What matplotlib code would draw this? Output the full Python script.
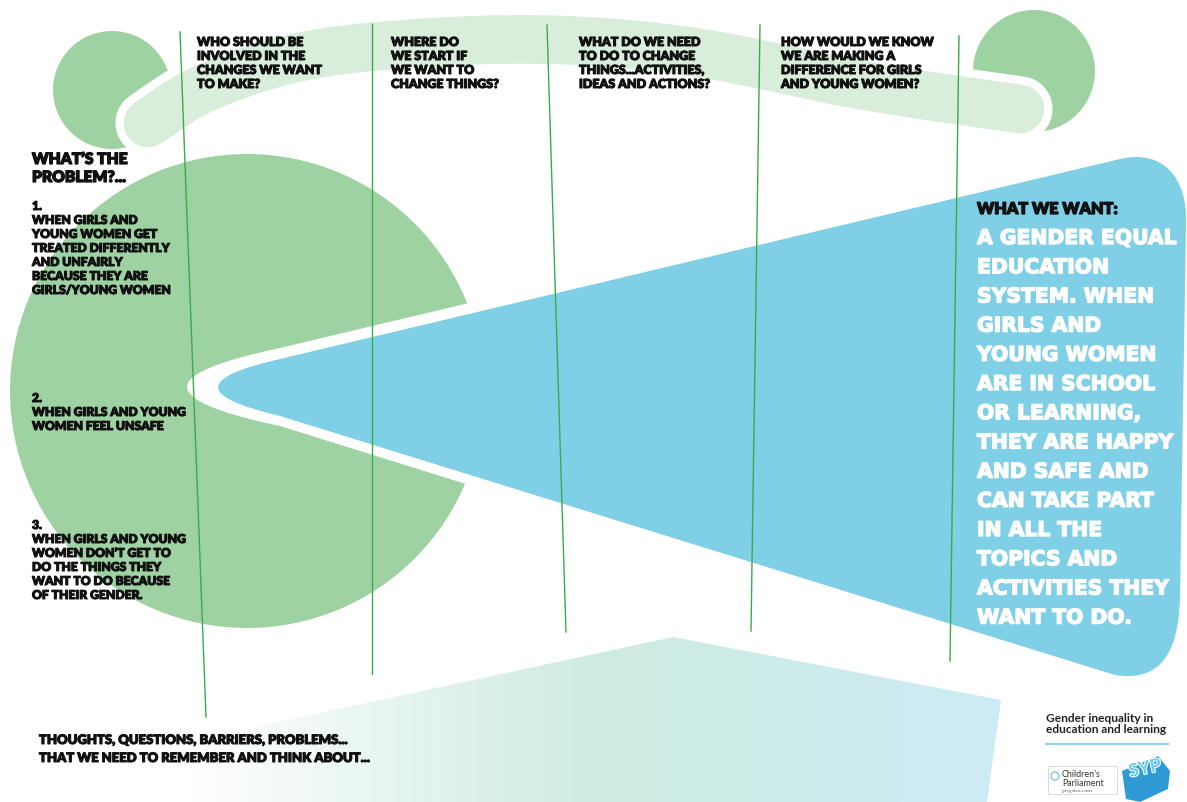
import os
import numpy as np
import matplotlib.pyplot as plt
import matplotlib.patheffects as pe
from matplotlib import font_manager
from matplotlib.font_manager import FontProperties
from matplotlib.path import Path
from matplotlib.patches import PathPatch, Circle, Polygon, Rectangle

# ---- poster text ----
column_headers = [
    ["WHO SHOULD BE", "INVOLVED IN THE", "CHANGES WE WANT", "TO MAKE?"],
    ["WHERE DO", "WE START IF", "WE WANT TO", "CHANGE THINGS?"],
    ["WHAT DO WE NEED", "TO DO TO CHANGE", "THINGS...ACTIVITIES,", "IDEAS AND ACTIONS?"],
    ["HOW WOULD WE KNOW", "WE ARE MAKING A", "DIFFERENCE FOR GIRLS", "AND YOUNG WOMEN?"],
]
problem_title = ["WHAT\u2019S THE", "PROBLEM?..."]
problem_items = [
    ["WHEN GIRLS AND", "YOUNG WOMEN GET", "TREATED DIFFERENTLY",
     "AND UNFAIRLY", "BECAUSE THEY ARE", "GIRLS/YOUNG WOMEN"],
    ["WHEN GIRLS AND YOUNG", "WOMEN FEEL UNSAFE"],
    ["WHEN GIRLS AND YOUNG", "WOMEN DON\u2019T GET TO", "DO THE THINGS THEY",
     "WANT TO DO BECAUSE", "OF THEIR GENDER."],
]
goal_title = "WHAT WE WANT:"
goal_lines = ["A GENDER EQUAL", "EDUCATION", "SYSTEM. WHEN", "GIRLS AND",
              "YOUNG WOMEN", "ARE IN SCHOOL", "OR LEARNING,", "THEY ARE HAPPY",
              "AND SAFE AND", "CAN TAKE PART", "IN ALL THE", "TOPICS AND",
              "ACTIVITIES THEY", "WANT TO DO."]
footer_lines = ["THOUGHTS, QUESTIONS, BARRIERS, PROBLEMS...",
                "THAT WE NEED TO REMEMBER AND THINK ABOUT..."]
badge_lines = ["Gender inequality in", "education and learning"]

# ---- layout (pixels) ----
HEADER_X = [197, 391, 579, 781]
ITEM_BASELINES = [211, 403, 530]
DIVIDERS = [(180, 33, 206, 718), (372, 25, 372, 675), (547, 26, 566, 633),
            (760, 26, 751, 632), (959, 37, 950, 662)]
BAND_PTS = [(148, 124), (205, 89), (300, 58), (420, 44), (560, 41),
            (700, 54), (860, 86), (1020, 110)]

GREEN = "#9ED2A3"
PALE = "#D8EDDA"
BLUE = "#7FCFE6"
LINE = "#3CAA4A"
INK = "#111111"

files = {os.path.basename(f.fname).lower(): f.fname for f in font_manager.fontManager.ttflist}


def find_font(names):
    for n in names:
        if n in files:
            return FontProperties(fname=files[n])
    return FontProperties(family="DejaVu Sans", weight="bold")


HEAVY_FP = find_font(["notosans-black.ttf", "notosans-extrabold.ttf",
                      "lato-black.ttf", "lato-heavy.ttf"])
ROUND_FP = find_font(["notosans-semicondensedblack.ttf",
                      "notosans-semicondensedextrabold.ttf", "dejavusans-bold.ttf"])
avail = {f.name for f in font_manager.fontManager.ttflist}
SMALL = "Lato" if "Lato" in avail else "DejaVu Sans"


def catmull(pts, n=40):
    p = np.asarray(pts, float)
    p = np.vstack([p[0], p, p[-1]])
    out = []
    t = np.linspace(0, 1, n, endpoint=False)[:, None]
    for i in range(1, len(p) - 2):
        p0, p1, p2, p3 = p[i - 1], p[i], p[i + 1], p[i + 2]
        out.append(0.5 * (2 * p1 + (-p0 + p2) * t
                          + (2 * p0 - 5 * p1 + 4 * p2 - p3) * t ** 2
                          + (-p0 + 3 * p1 - 3 * p2 + p3) * t ** 3))
    out.append(p[-2][None])
    return np.vstack(out)


fig = plt.figure(figsize=(11.87, 8.03), dpi=100)
ax = fig.add_axes([0, 0, 1, 1])
ax.set_xlim(0, 1187)
ax.set_ylim(803, 0)
ax.axis("off")
renderer = fig.canvas.get_renderer()


def fit(s, width_px, fp=HEAVY_FP):
    t = ax.text(0, 0, s, fontproperties=fp, fontsize=10)
    w = t.get_window_extent(renderer).width
    t.remove()
    return 10 * width_px / w


# green blobs
ax.add_patch(Circle((112, 91), 59, color=GREEN, lw=0, zorder=1))
ax.add_patch(Circle((1034, 72), 61, color=GREEN, lw=0, zorder=1))
ax.add_patch(Circle((247, 392), 237, color=GREEN, lw=0, zorder=1))

# pale arc with white gap
band = catmull(BAND_PTS)
ax.plot(band[:, 0], band[:, 1], color="white", lw=47, solid_capstyle="round", zorder=2)
ax.plot(band[:, 0], band[:, 1], color=PALE, lw=35, solid_capstyle="round", zorder=3)

# white mouth + blue arrow shape
C3, C4, L, M = Path.CURVE3, Path.CURVE4, Path.LINETO, Path.MOVETO
white_v = [(280, 427), (94, 388), (280, 349), (620, 268), (620, 533), (280, 427)]
white_c = [M, C3, C3, L, L, L]
ax.add_patch(PathPatch(Path(white_v, white_c), fc="white", ec="none", zorder=2))

blue_v = [(280, 417), (156, 388), (280, 360), (1120, 160),
          (1162, 150), (1188, 178), (1186, 225), (1180, 600),
          (1178, 655), (1160, 683), (1115, 676), (280, 417)]
blue_c = [M, C3, C3, L, C4, C4, C4, L, C4, C4, C4, L]
ax.add_patch(PathPatch(Path(blue_v, blue_c), fc=BLUE, ec="none", zorder=3))

# bottom gradient panel
panel = Polygon([(0, 783), (673, 638), (1001, 701), (987, 803), (0, 803)],
                closed=True, fc="none", ec="none")
ax.add_patch(panel)
xs = np.linspace(0, 1001, 600)
stops_x = [0, 190, 600, 1001]
cols = np.array([[255, 255, 255], [255, 255, 255], [205, 235, 225], [206, 235, 245]]) / 255
grad = np.stack([np.interp(xs, stops_x, cols[:, c]) for c in range(3)], axis=-1)[None, :, :]
im = ax.imshow(grad, extent=(0, 1001, 803, 638), aspect="auto", zorder=1)
im.set_clip_path(panel)
ax.set_xlim(0, 1187)
ax.set_ylim(803, 0)

# divider lines
for x0, y0, x1, y1 in DIVIDERS:
    ax.plot([x0, x1], [y0, y1], color=LINE, lw=1.0, zorder=5)


def heavy(x, y, s, size, color=INK, fp=HEAVY_FP, stroke=0.7):
    fx = [pe.withStroke(linewidth=stroke, foreground=color)] if stroke else None
    ax.text(x, y, s, fontproperties=fp, fontsize=size, color=color,
            va="baseline", zorder=6, path_effects=fx)


# column headers
hs = fit("CHANGES WE WANT", 125)
for x, lines in zip(HEADER_X, column_headers):
    for i, s in enumerate(lines):
        heavy(x, 47 + 14 * i, s, hs)

# problem column
ts = fit(problem_title[0], 96)
for i, s in enumerate(problem_title):
    heavy(32, 165 + 18 * i, s, ts, stroke=0.9)
ps = fit("TREATED DIFFERENTLY", 138)
for n, (base, lines) in enumerate(zip(ITEM_BASELINES, problem_items), start=1):
    heavy(32, base, f"{n}.", ps)
    for i, s in enumerate(lines):
        heavy(32, base + 14 * (i + 1), s, ps)

# what we want
heavy(977, 215, goal_title, fit(goal_title, 141), stroke=0.9)
gs = fit(goal_lines[0], 200, fp=ROUND_FP)
for i, s in enumerate(goal_lines):
    heavy(977, 245 + 29.2 * i, s, gs, color="white", fp=ROUND_FP, stroke=1.0)

# footer prompt
fs = fit(footer_lines[1], 332)
for i, s in enumerate(footer_lines):
    heavy(39, 745 + 18 * i, s, fs)

# badge
bfp = FontProperties(family=[SMALL, "DejaVu Sans"], weight="bold")
bs = fit(badge_lines[0], 108, fp=bfp)
for i, s in enumerate(badge_lines):
    ax.text(1046, 722 + 11 * i, s, fontproperties=bfp, fontsize=bs,
            color="#222222", va="baseline", zorder=6)
ax.plot([1046, 1168], [745, 745], color="#8FD3EA", lw=1.6, zorder=5)

ax.add_patch(Rectangle((1048, 767), 69, 28, fc="white", ec="#CCCCCC", lw=0.5, zorder=5))
ax.add_patch(Circle((1055, 777), 4, fc="none", ec="#7FC8E8", lw=1.0, zorder=6))
ax.text(1062, 777, "Children\u2019s", fontsize=6.4, family=[SMALL, "DejaVu Sans"],
        color="#333333", va="baseline", zorder=6)
ax.text(1062, 786, "Parliament", fontsize=6.4, family=[SMALL, "DejaVu Sans"],
        color="#333333", va="baseline", zorder=6)
ax.text(1062, 792, "giving ideas a voice", fontsize=2.6, family=[SMALL, "DejaVu Sans"],
        color="#555555", va="baseline", zorder=6)

ax.add_patch(Polygon([(1122, 772), (1158, 757), (1170, 772), (1168, 790),
                      (1140, 803), (1126, 800)], closed=True, fc="#2E9BD6", ec="none", zorder=5))
ax.text(1145, 778, "SYP", fontsize=13, family=[SMALL, "DejaVu Sans"], weight="bold",
        color="#6CCBF2", ha="center", va="baseline", rotation=12, zorder=6,
        path_effects=[pe.withStroke(linewidth=1.5, foreground="white")])

fig.savefig("out.png", dpi=100)
